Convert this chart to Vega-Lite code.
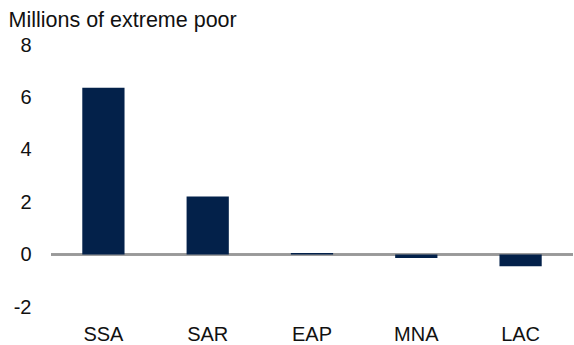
{
  "$schema": "https://vega.github.io/schema/vega-lite/v6.json",
  "autosize": "none",
  "width": 522,
  "height": 262,
  "padding": {"left": 51, "top": 45, "right": 1, "bottom": 38},
  "background": "white",
  "config": {
    "view": {"stroke": null},
    "font": "Liberation Sans"
  },
  "data": {
    "values": [
      {"region": "SSA", "value": 6.37},
      {"region": "SAR", "value": 2.22},
      {"region": "EAP", "value": 0.06},
      {"region": "MNA", "value": -0.13},
      {"region": "LAC", "value": -0.44}
    ]
  },
  "layer": [
    {
      "mark": {"type": "rule", "color": "#999999", "strokeWidth": 2},
      "encoding": {"y": {"datum": 0, "type": "quantitative"}}
    },
    {
      "mark": {"type": "bar", "color": "#03214a"},
      "encoding": {
        "x": {
          "field": "region",
          "type": "nominal",
          "sort": null,
          "scale": {"paddingInner": 0.595, "paddingOuter": 0.3},
          "axis": {
            "title": null,
            "domain": false,
            "ticks": false,
            "tickSize": 0,
            "labelAngle": 0,
            "labelFontSize": 20,
            "labelColor": "#111111",
            "labelBaseline": "alphabetic",
            "labelPadding": 33
          }
        },
        "y": {
          "field": "value",
          "type": "quantitative",
          "scale": {"domain": [-2, 8], "nice": false},
          "axis": {
            "values": [-2, 0, 2, 4, 6, 8],
            "labelExpr": "'' + datum.value",
            "domain": false,
            "ticks": false,
            "tickSize": 0,
            "grid": false,
            "labelFontSize": 20,
            "labelColor": "#111111",
            "labelPadding": 20,
            "title": "Millions of extreme poor",
            "titleAngle": 0,
            "titleAlign": "left",
            "titleBaseline": "alphabetic",
            "titleX": -43,
            "titleY": -19,
            "titleFontSize": 21.5,
            "titleFontWeight": "normal",
            "titleColor": "#111111"
          }
        }
      }
    }
  ]
}
